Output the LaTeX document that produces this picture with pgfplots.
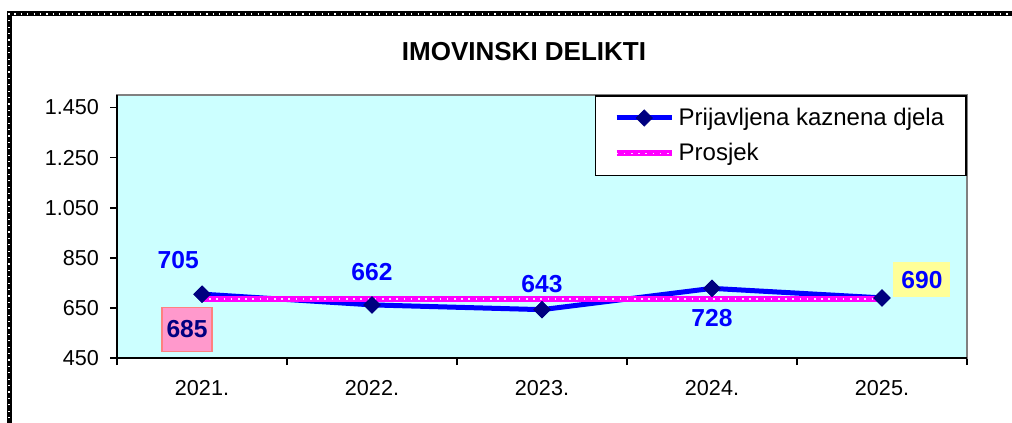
\documentclass[border=0pt]{standalone}
\usepackage{pgfplots}
\pgfplotsset{compat=1.18}
\usepackage{fontspec}
\setmainfont{Liberation Sans}
\definecolor{plotbg}{RGB}{204,255,255}
\definecolor{navymark}{RGB}{0,0,128}
\definecolor{lblyellow}{RGB}{255,255,153}
\definecolor{lblpink}{RGB}{255,153,204}
\definecolor{lblpinkedge}{RGB}{255,128,128}
\definecolor{avgmag}{RGB}{255,0,255}

\begin{document}
\begin{tikzpicture}[x=1pt,y=1pt]
\useasboundingbox (0,0) rectangle (506,211.5);
% outer chart frame (only top and left are visible)
\begin{scope}
\clip (0,0) rectangle (506,211.5);
\draw[black, line width=2.5pt,
  postaction={draw, white, line width=0.6pt, dash pattern=on 0.6pt off 2.6pt}]
  (4.5,-20) -- (4.5,204.5) -- (540,204.5);
\end{scope}
\node[font=\bfseries\fontsize{13}{15}\selectfont] at (262,185.5) {IMOVINSKI DELIKTI};

\begin{axis}[
  at={(58.5pt,32.5pt)}, anchor=south west,
  width=425pt, height=131.5pt, scale only axis,
  xmin=-0.5, xmax=4.5, ymin=450, ymax=1500,
  xtick={0,...,4},
  xticklabels={2021.,2022.,2023.,2024.,2025.},
  major x tick style={draw=none},
  minor xtick={-0.5,0.5,...,4.5},
  ytick={450,650,...,1450},
  yticklabels={450,650,850,1.050,1.250,1.450},
  xtick pos=bottom, ytick pos=left,
  tick align=outside,
  major tick length=3.5pt, minor tick length=3.5pt,
  tick style={black, line width=0.8pt},
  axis background/.style={fill=plotbg},
  axis line style={draw=gray, line width=0.7pt},
  ticklabel style={font=\fontsize{10.8}{12}\selectfont},
  xticklabel style={yshift=-4pt},
  yticklabel style={xshift=-2pt},
  clip=false,
  legend style={at={(1,1)}, anchor=north east, draw=black, line width=0.8pt,
    fill=white, font=\fontsize{12}{14}\selectfont, inner xsep=9pt, inner ysep=4pt,
    row sep=3.5pt, /tikz/every odd column/.style={column sep=0pt}},
  legend cell align=left,
  legend image code/.code={\draw[mark repeat=2, mark phase=2, #1]
    plot coordinates {(0pt,0pt) (13.75pt,0pt) (27.5pt,0pt)};},
  after end axis/.code={
    \draw[black, line width=1pt] (rel axis cs:0,1) -- (rel axis cs:0,0) -- (rel axis cs:1,0);
  },
]
\addplot[blue, line width=2.5pt, mark=square*, mark size=2.9pt,
  mark options={navymark, fill=navymark, line width=0.3pt, rotate=45}]
  coordinates {(0,705) (1,662) (2,643) (3,728) (4,690)};
\addlegendentry{Prijavljena kaznena djela\hspace{5pt}}
\addplot[avgmag, line width=3pt,
  postaction={draw, white!85!avgmag, line width=0.8pt, dash pattern=on 0.8pt off 2.8pt}]
  coordinates {(0,685.6) (4,685.6)};
\addlegendentry{Prosjek}
\addplot[draw=none, forget plot, mark=square*, mark size=2.9pt,
  mark options={navymark, fill=navymark, line width=0.3pt, rotate=45}]
  coordinates {(0,705) (1,662) (2,643) (3,728) (4,690)};

\node[text=blue, font=\bfseries\fontsize{12.3}{14}\selectfont] at (axis cs:-0.14,842) {705};
\node[text=blue, font=\bfseries\fontsize{12.3}{14}\selectfont] at (axis cs:1,794) {662};
\node[text=blue, font=\bfseries\fontsize{12.3}{14}\selectfont] at (axis cs:2,746) {643};
\node[text=blue, font=\bfseries\fontsize{12.3}{14}\selectfont] at (axis cs:3,610) {728};
\node[text=blue, fill=lblyellow, minimum width=28.5pt, minimum height=17.5pt, inner sep=0pt,
  font=\bfseries\fontsize{12.3}{14}\selectfont] at (axis cs:4.235,762) {690};
\node[text=navymark, fill=lblpink, draw=lblpinkedge, line width=0.8pt,
  minimum width=25pt, minimum height=22pt, inner sep=0pt,
  font=\bfseries\fontsize{12.3}{14}\selectfont] at (axis cs:-0.088,564) {685};
\end{axis}
\end{tikzpicture}
\end{document}
